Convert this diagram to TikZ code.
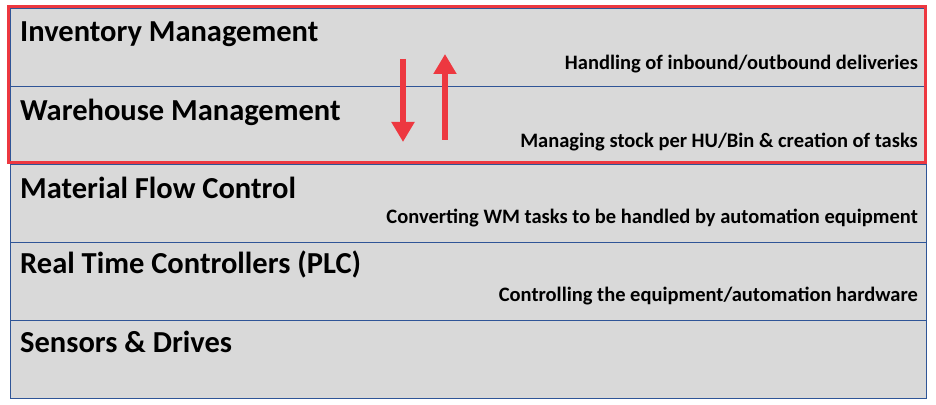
\documentclass[tikz,border=0pt]{standalone}
\usepackage{fontspec}
\setmainfont{Carlito}
\usetikzlibrary{positioning, arrows.meta}
\definecolor{layergray}{RGB}{217,217,217}
\definecolor{layerblue}{RGB}{47,85,151}
\definecolor{framered}{RGB}{237,56,64}
\tikzset{layer/.style={draw=layerblue, line width=0.8pt, fill=layergray, minimum width=916pt, minimum height=78pt, inner sep=0pt, anchor=north west},
  ttl/.style={font=\bfseries\fontsize{30.5}{34}\selectfont, anchor=west, inner sep=0pt},
  dsc/.style={font=\bfseries\fontsize{20.5}{24}\selectfont, anchor=east, inner sep=0pt},
  redarr/.style={draw=framered, line width=6pt, -{Triangle[length=20pt,width=22pt]}}}
\begin{document}
\begin{tikzpicture}[x=1pt,y=1pt]
\useasboundingbox (0,0) rectangle (936,404);
\foreach \i in {0,...,4}{
\node[layer] (L\i) at (10,{396-78*\i}) {};
}
\node[ttl] (t0) at (20,370) {Inventory Management};
\node[ttl] (t1) at (20,292) {Warehouse Management};
\node[ttl] (t2) at (20,216) {Material Flow Control};
\node[ttl] (t3) at (20,140) {Real Time Controllers (PLC)};
\node[ttl] (t4) at (20,62) {Sensors \& Drives};
\node[dsc] (d0) at (918,340) {Handling of inbound/outbound deliveries};
\node[dsc] (d1) at (918,262) {Managing stock per HU/Bin \& creation of tasks};
\node[dsc] (d2) at (918,186) {Converting WM tasks to be handled by automation equipment};
\node[dsc] (d3) at (918,108) {Controlling the equipment/automation hardware};
\draw[framered, line width=3pt] (8,241) rectangle (925,397);
\coordinate (dA) at (403,345);
\coordinate (dB) at (403,262);
\coordinate (uA) at (445,264);
\coordinate (uB) at (445,350);
\draw[redarr] (dA) -- (dB);
\draw[redarr] (uA) -- (uB);
\end{tikzpicture}
\end{document}
